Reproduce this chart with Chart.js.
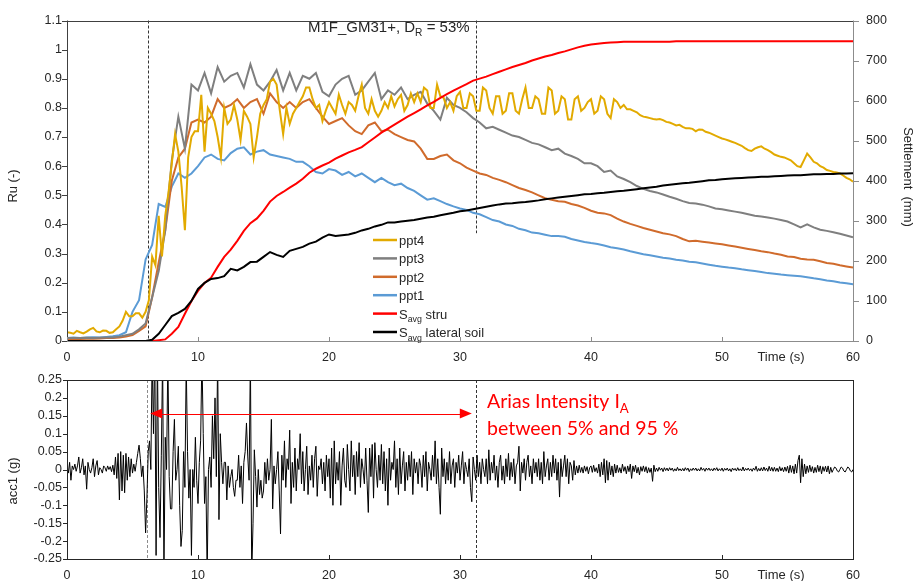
<!DOCTYPE html>
<html>
<head>
<meta charset="utf-8">
<title>M1F_GM31+ pore pressure and settlement</title>
<script src="https://cdn.jsdelivr.net/npm/chart.js@4.4.0/dist/chart.umd.min.js"></script>
<style>
  html, body { margin: 0; padding: 0; background: #fff; }
  #wrap { position: relative; width: 918px; height: 581px; overflow: hidden; }
  canvas { position: absolute; left: 0; }
  #topChart { top: 0; width: 918px; height: 365px; }
  #accChart { top: 365px; width: 918px; height: 216px; }
</style>
</head>
<body>
<div id="wrap">
  <canvas id="topChart" width="918" height="365"></canvas>
  <canvas id="accChart" width="918" height="216"></canvas>
</div>
<script>
// Time grids (s)
const RU_STEP = 0.5;
const PPT4_STEP = 0.25;
const ACC_STEP = 0.1;

// Excess pore pressure ratio Ru (-)
// ppt4 is sampled every 0.25 s (one row = 5 s), the others every 0.5 s
const ppt4 = [
  0.030, 0.028, 0.025, 0.035, 0.030, 0.026, 0.032, 0.040, 0.045, 0.033, 0.030, 0.036, 0.035, 0.028, 0.030, 0.040, 0.050, 0.070, 0.100, 0.085,
  0.085, 0.095, 0.095, 0.080, 0.100, 0.140, 0.290, 0.260, 0.430, 0.290, 0.430, 0.510, 0.610, 0.710, 0.650, 0.530, 0.380, 0.630, 0.700, 0.720,
  0.720, 0.845, 0.650, 0.800, 0.780, 0.755, 0.700, 0.630, 0.800, 0.745, 0.760, 0.810, 0.760, 0.690, 0.790, 0.770, 0.745, 0.630, 0.700, 0.780,
  0.810, 0.830, 0.890, 0.900, 0.880, 0.790, 0.710, 0.800, 0.745, 0.780, 0.800, 0.820, 0.840, 0.870, 0.870, 0.830, 0.800, 0.810, 0.755, 0.790,
  0.820, 0.800, 0.780, 0.845, 0.810, 0.780, 0.820, 0.810, 0.790, 0.840, 0.880, 0.800, 0.780, 0.830, 0.790, 0.770, 0.790, 0.820, 0.800, 0.840,
  0.805, 0.830, 0.845, 0.790, 0.810, 0.850, 0.820, 0.850, 0.820, 0.870, 0.860, 0.800, 0.800, 0.880, 0.840, 0.835, 0.800, 0.820, 0.790, 0.840,
  0.855, 0.800, 0.800, 0.850, 0.840, 0.790, 0.790, 0.870, 0.860, 0.800, 0.780, 0.840, 0.840, 0.780, 0.790, 0.850, 0.850, 0.790, 0.780, 0.830,
  0.870, 0.800, 0.800, 0.840, 0.830, 0.780, 0.780, 0.870, 0.860, 0.780, 0.790, 0.840, 0.830, 0.760, 0.760, 0.830, 0.840, 0.790, 0.800, 0.820,
  0.830, 0.780, 0.790, 0.840, 0.830, 0.780, 0.765, 0.830, 0.820, 0.800, 0.810, 0.795, 0.795, 0.790, 0.785, 0.775, 0.770, 0.768, 0.765, 0.762,
  0.760, 0.762, 0.758, 0.752, 0.750, 0.745, 0.740, 0.742, 0.735, 0.730, 0.730, 0.728, 0.720, 0.726, 0.725, 0.718, 0.715, 0.710, 0.705, 0.700,
  0.695, 0.692, 0.688, 0.684, 0.680, 0.675, 0.670, 0.662, 0.655, 0.652, 0.660, 0.665, 0.668, 0.660, 0.655, 0.648, 0.640, 0.636, 0.632, 0.630,
  0.625, 0.620, 0.610, 0.600, 0.597, 0.620, 0.643, 0.630, 0.615, 0.610, 0.600, 0.595, 0.587, 0.584, 0.580, 0.578, 0.575, 0.568, 0.560, 0.555,
  0.547
];
const ppt3 = [
  0.010, 0.010, 0.010, 0.011, 0.010, 0.011, 0.012, 0.012, 0.015, 0.020,
  0.025, 0.040, 0.060, 0.150, 0.240, 0.380, 0.620, 0.770, 0.660, 0.880,
  0.860, 0.920, 0.850, 0.940, 0.890, 0.910, 0.920, 0.870, 0.950, 0.880,
  0.860, 0.890, 0.930, 0.860, 0.920, 0.860, 0.910, 0.900, 0.920, 0.855,
  0.840, 0.880, 0.900, 0.910, 0.845, 0.860, 0.890, 0.920, 0.830, 0.860,
  0.845, 0.870, 0.830, 0.845, 0.855, 0.815, 0.790, 0.760, 0.835, 0.810,
  0.800, 0.785, 0.765, 0.750, 0.730, 0.735, 0.725, 0.715, 0.705, 0.700,
  0.690, 0.680, 0.675, 0.665, 0.655, 0.660, 0.643, 0.635, 0.625, 0.610,
  0.610, 0.600, 0.580, 0.585, 0.565, 0.556, 0.545, 0.532, 0.522, 0.515,
  0.510, 0.503, 0.495, 0.488, 0.480, 0.474, 0.472, 0.468, 0.462, 0.455,
  0.452, 0.448, 0.444, 0.440, 0.435, 0.430, 0.427, 0.424, 0.420, 0.415,
  0.410, 0.400, 0.390, 0.400, 0.390, 0.382, 0.378, 0.373, 0.368, 0.362,
  0.356
];
const ppt2 = [
  0.005, 0.006, 0.007, 0.008, 0.008, 0.009, 0.010, 0.010, 0.012, 0.015,
  0.020, 0.035, 0.050, 0.150, 0.270, 0.380, 0.550, 0.630, 0.660, 0.750,
  0.760, 0.750, 0.770, 0.830, 0.800, 0.810, 0.830, 0.800, 0.820, 0.830,
  0.780, 0.850, 0.820, 0.800, 0.820, 0.800, 0.820, 0.830, 0.800, 0.770,
  0.745, 0.755, 0.765, 0.740, 0.720, 0.710, 0.740, 0.750, 0.720, 0.725,
  0.710, 0.700, 0.690, 0.685, 0.660, 0.625, 0.625, 0.635, 0.640, 0.620,
  0.610, 0.595, 0.585, 0.575, 0.570, 0.560, 0.553, 0.545, 0.535, 0.525,
  0.518, 0.510, 0.500, 0.490, 0.485, 0.480, 0.478, 0.470, 0.465, 0.457,
  0.447, 0.440, 0.438, 0.432, 0.420, 0.410, 0.402, 0.395, 0.388, 0.382,
  0.376, 0.370, 0.366, 0.360, 0.350, 0.342, 0.344, 0.341, 0.338, 0.335,
  0.332, 0.328, 0.324, 0.320, 0.316, 0.312, 0.308, 0.305, 0.300, 0.296,
  0.290, 0.288, 0.282, 0.280, 0.279, 0.274, 0.268, 0.265, 0.260, 0.256,
  0.252
];
const ppt1 = [
  0.010, 0.012, 0.010, 0.012, 0.013, 0.012, 0.014, 0.016, 0.020, 0.030,
  0.100, 0.140, 0.280, 0.330, 0.470, 0.460, 0.530, 0.575, 0.560, 0.575,
  0.600, 0.630, 0.640, 0.625, 0.620, 0.645, 0.660, 0.665, 0.640, 0.650,
  0.655, 0.640, 0.635, 0.630, 0.625, 0.615, 0.615, 0.600, 0.580, 0.575,
  0.590, 0.585, 0.570, 0.580, 0.565, 0.575, 0.560, 0.545, 0.560, 0.545,
  0.535, 0.540, 0.525, 0.515, 0.500, 0.485, 0.490, 0.480, 0.470, 0.462,
  0.455, 0.450, 0.440, 0.435, 0.425, 0.415, 0.410, 0.400, 0.395, 0.385,
  0.380, 0.372, 0.370, 0.365, 0.360, 0.360, 0.358, 0.350, 0.345, 0.340,
  0.336, 0.333, 0.328, 0.322, 0.318, 0.314, 0.308, 0.303, 0.298, 0.294,
  0.290, 0.286, 0.283, 0.279, 0.276, 0.272, 0.270, 0.266, 0.262, 0.258,
  0.255, 0.252, 0.250, 0.246, 0.243, 0.240, 0.237, 0.233, 0.231, 0.228,
  0.226, 0.224, 0.222, 0.219, 0.215, 0.212, 0.208, 0.205, 0.201, 0.198,
  0.195
];

// Average settlements (mm), every 0.5 s
const sStru = [
  0, 0, 0, 0, 0, 0, 0, 0, 0, 0,
  0, 0, 0, 0, 2, 4, 18, 35, 68, 100,
  125, 145, 158, 185, 210, 228, 250, 275, 294, 306,
  325, 348, 362, 372, 383, 393, 405, 420, 430, 438,
  445, 455, 463, 471, 477, 484, 496, 508, 520, 530,
  540, 550, 560, 569, 578, 588, 597, 607, 616, 625,
  633, 641, 650, 655, 660, 666, 672, 678, 684, 689,
  694, 700, 705, 710, 714, 719, 723, 728, 733, 737,
  740, 742, 744, 745, 746, 747, 747, 747, 747, 747,
  747, 747, 747, 748, 748, 748, 748, 748, 748, 748,
  748, 748, 748, 748, 748, 748, 748, 748, 748, 748,
  748, 748, 748, 748, 748, 748, 748, 748, 748, 748,
  748
];
const sLateral = [
  0, 0, 0, 0, 0, 0, 0, 0, 0, 0,
  0, 0, 0, 3, 18, 40, 62, 70, 80, 100,
  130, 145, 155, 157, 162, 180, 176, 185, 197, 198,
  210, 222, 215, 210, 225, 230, 235, 243, 248, 258,
  266, 262, 264, 266, 270, 276, 280, 286, 290, 296,
  296, 298, 300, 302, 305, 308, 310, 314, 317, 320,
  324, 326, 329, 332, 335, 338, 341, 343, 344, 346,
  347, 349, 351, 354, 356, 358, 360, 362, 364, 366,
  367, 369, 370, 372, 374, 375, 377, 379, 381, 383,
  385, 388, 390, 392, 394, 395, 397, 399, 401, 402,
  404, 405, 406, 407, 408, 409, 410, 410, 411, 412,
  413, 414, 414, 415, 416, 416, 417, 417, 418, 418,
  419
];

// Base acceleration acc1 (g), one row = 1 s
const acc1 = [
  0.005, -0.010, 0.020, -0.030, 0.010, 0.000, 0.015, -0.005, 0.010, 0.035,
  -0.010, 0.005, 0.030, -0.015, 0.010, -0.055, 0.020, 0.000, -0.010, 0.005,
  0.030, -0.020, 0.010, 0.025, -0.015, 0.005, 0.000, -0.010, 0.010, 0.005,
  -0.005, 0.010, 0.000, 0.008, -0.006, 0.012, -0.015, 0.035, -0.025, 0.045,
  -0.085, 0.050, -0.060, 0.040, -0.065, 0.045, -0.030, 0.035, -0.020, 0.030,
  -0.010, 0.015, -0.005, 0.020, 0.045, 0.068, 0.030, -0.020, 0.010, -0.060,
  -0.177, -0.080, 0.050, 0.080, 0.000, 0.320, 0.100, 0.350, -0.240, 0.330,
  -0.050, -0.190, 0.040, 0.320, -0.300, 0.090, 0.000, 0.320, -0.020, -0.110,
  -0.110, 0.050, 0.140, -0.030, 0.000, 0.065, -0.100, -0.215, -0.170, 0.050,
  -0.050, 0.300, 0.050, -0.080, 0.000, -0.240, 0.000, -0.050, 0.090, -0.030,
  -0.095, 0.020, 0.080, 0.320, 0.100, -0.095, -0.020, -0.300, 0.000, 0.035,
  -0.050, 0.150, 0.030, 0.200, -0.020, 0.320, -0.140, 0.100, 0.020, -0.040,
  0.020, 0.020, -0.085, 0.010, -0.050, -0.020, 0.000, -0.050, -0.075, -0.030,
  -0.030, 0.040, -0.050, 0.010, -0.095, 0.020, 0.050, 0.130, 0.035, -0.030,
  0.320, -0.300, -0.150, 0.055, -0.020, -0.105, 0.000, -0.070, -0.030, -0.080,
  -0.060, 0.020, -0.040, 0.030, -0.030, 0.000, 0.140, -0.110, 0.010, -0.040,
  0.000, 0.050, -0.060, -0.180, 0.040, -0.030, 0.080, -0.050, 0.030, 0.000,
  0.110, -0.095, 0.020, -0.050, 0.060, -0.060, 0.030, 0.000, 0.100, -0.040,
  0.050, -0.060, 0.000, 0.065, -0.070, 0.010, -0.030, 0.040, -0.050, 0.030,
  0.065, -0.075, 0.010, 0.000, 0.030, -0.040, 0.020, -0.060, 0.040, -0.020,
  0.030, -0.080, 0.060, -0.100, 0.080, -0.040, 0.020, -0.030, 0.050, -0.100,
  0.010, 0.060, -0.030, -0.050, 0.070, 0.000, -0.060, 0.080, -0.020, 0.040,
  -0.070, 0.050, -0.020, 0.075, -0.050, 0.030, 0.000, -0.040, 0.060, -0.030,
  -0.120, 0.060, -0.020, 0.070, -0.080, 0.075, 0.000, -0.050, 0.040, -0.030,
  0.070, -0.040, 0.050, -0.060, 0.030, -0.100, 0.060, -0.030, 0.020, 0.000,
  0.080, -0.050, 0.030, -0.070, 0.060, -0.040, 0.010, 0.050, -0.060, 0.020,
  -0.030, 0.040, -0.020, 0.050, -0.070, 0.030, -0.010, 0.020, -0.040, 0.030,
  0.010, -0.050, 0.040, -0.020, 0.050, -0.060, 0.020, 0.000, -0.030, 0.040,
  -0.020, 0.080, -0.040, 0.030, -0.050, -0.125, 0.060, -0.020, 0.030, -0.040,
  0.020, -0.030, 0.050, -0.040, 0.010, 0.030, -0.050, 0.020, -0.010, 0.040,
  -0.030, 0.010, 0.050, -0.040, 0.020, 0.000, -0.020, 0.030, -0.050, -0.090,
  0.035, 0.000, -0.030, 0.040, -0.020, 0.020, -0.040, 0.030, 0.000, -0.020,
  0.030, -0.040, 0.055, -0.030, 0.020, -0.010, 0.040, -0.030, 0.010, -0.050,
  0.020, 0.040, -0.030, 0.010, -0.040, 0.030, -0.020, 0.045, -0.030, 0.020,
  -0.020, 0.030, -0.040, 0.010, 0.020, 0.065, -0.060, 0.020, -0.010, 0.030,
  -0.030, 0.020, 0.040, -0.020, 0.010, -0.040, 0.030, -0.010, 0.020, -0.020,
  0.030, -0.030, 0.020, -0.040, 0.050, -0.020, 0.010, 0.030, -0.030, 0.020,
  -0.020, 0.040, -0.010, 0.030, -0.030, 0.020, -0.077, 0.030, -0.020, 0.010,
  0.040, -0.020, 0.030, -0.040, 0.020, 0.010, -0.030, 0.025, -0.015, 0.010,
  -0.010, 0.012, -0.008, 0.006, -0.010, 0.010, -0.005, 0.008, -0.012, 0.005,
  0.010, -0.008, 0.012, -0.006, 0.005, -0.010, 0.015, -0.020, 0.020, -0.015,
  0.030, -0.037, 0.025, -0.030, 0.020, -0.015, 0.010, -0.020, 0.015, -0.010,
  0.012, -0.008, 0.005, -0.010, 0.015, -0.005, 0.008, -0.012, 0.010, -0.006,
  0.015, -0.025, 0.010, -0.006, 0.012, -0.010, 0.006, -0.015, 0.008, -0.005,
  0.010, -0.006, 0.008, -0.010, 0.005, -0.008, 0.004, -0.033, 0.012, -0.006,
  0.004, -0.005, 0.006, -0.002, 0.004, -0.006, 0.005, -0.003, 0.004, -0.004,
  0.005, -0.002, 0.004, -0.005, 0.002, -0.004, 0.006, -0.003, 0.002, -0.004,
  0.003, -0.004, 0.005, -0.002, 0.004, -0.006, 0.002, -0.003, 0.004, -0.002,
  0.004, -0.004, 0.002, -0.004, 0.006, -0.002, 0.003, -0.005, 0.004, -0.002,
  0.004, -0.003, 0.002, -0.004, 0.004, -0.002, 0.005, -0.004, 0.002, -0.003,
  0.004, -0.005, 0.003, -0.002, 0.004, -0.004, 0.002, -0.006, 0.004, -0.002,
  0.003, -0.004, 0.005, -0.003, 0.002, -0.004, 0.007, -0.004, 0.003, -0.002,
  0.004, -0.003, 0.002, -0.005, 0.004, -0.002, 0.009, -0.005, 0.003, -0.004,
  0.005, -0.004, 0.007, -0.003, 0.004, -0.005, 0.009, -0.004, 0.006, -0.005,
  0.006, -0.005, 0.004, -0.006, 0.008, -0.004, 0.005, -0.006, 0.007, -0.005,
  0.009, -0.010, 0.012, -0.008, 0.010, -0.012, 0.015, -0.010, 0.025, 0.040,
  -0.037, 0.030, -0.020, 0.015, -0.012, 0.010, -0.008, 0.012, -0.006, 0.008,
  -0.010, 0.006, -0.008, 0.012, -0.006, 0.010, -0.012, 0.008, -0.005, 0.009,
  -0.007, 0.010, -0.012, 0.006, -0.008, 0.000, 0.007, 0.004, -0.004, -0.007,
  0.000, 0.007, 0.004, -0.004, -0.007, 0.000, 0.007, 0.004, -0.004, -0.007,
  0.000
];

// Axis ticks
const TIME_TICKS = [0, 10, 20, 30, 40, 50, 60];
const RU_MAX = 1.1;
const SETTLE_MAX = 800;
const ACC_LIMIT = 0.25;

// Arias intensity window (5% - 95%), s
const IA_START = 6.2;
const IA_END = 31.2;

const COLORS = {
  ppt4: "#E2AA00",
  ppt3: "#7F7F7F",
  ppt2: "#D06B2C",
  ppt1: "#5B9BD5",
  stru: "#FF0000",
  lateral: "#000000",
};

const FONT = '"Liberation Sans", Arial, sans-serif';
Chart.defaults.font.family = FONT;
Chart.defaults.color = "#262626";

const toPoints = (arr, step) => arr.map((v, i) => ({ x: i * step, y: v }));

function lineSet(label, data, step, color, axis) {
  return {
    label,
    data: toPoints(data, step),
    borderColor: color,
    borderWidth: 2,
    pointRadius: 0,
    tension: 0,
    yAxisID: axis,
  };
}

// small helpers for text with subscripts
function drawSubText(ctx, x, y, parts, size, family) {
  let cx = x;
  parts.forEach((p) => {
    const s = p.sub ? size * 0.68 : size;
    ctx.font = `${s}px ${family}`;
    ctx.fillText(p.t, cx, p.sub ? y + size * 0.28 : y);
    cx += ctx.measureText(p.t).width;
  });
}

function vline(ctx, x, y0, y1) {
  ctx.beginPath();
  ctx.moveTo(Math.round(x) + 0.5, y0);
  ctx.lineTo(Math.round(x) + 0.5, y1);
  ctx.stroke();
}

function hline(ctx, x0, x1, y) {
  ctx.beginPath();
  ctx.moveTo(x0, Math.round(y) + 0.5);
  ctx.lineTo(x1, Math.round(y) + 0.5);
  ctx.stroke();
}

const topDecor = {
  id: "topDecor",
  beforeDatasetsDraw(chart) {
    const { ctx, chartArea: a, scales } = chart;
    ctx.save();
    ctx.strokeStyle = "#333";
    ctx.lineWidth = 1;
    ctx.setLineDash([3, 2]);
    vline(ctx, scales.x.getPixelForValue(IA_START), a.top, a.bottom);
    vline(ctx, scales.x.getPixelForValue(IA_END), a.top, scales.y.getPixelForValue(0.37));
    ctx.restore();
  },
  afterDraw(chart) {
    const { ctx, chartArea: a, scales } = chart;
    ctx.save();
    ctx.lineWidth = 1;
    // frame
    ctx.strokeStyle = "#404040";
    hline(ctx, a.left, a.right, a.top);
    vline(ctx, a.left, a.top, a.bottom);
    ctx.strokeStyle = "#8C8C8C";
    hline(ctx, a.left, a.right, a.bottom);
    vline(ctx, a.right, a.top, a.bottom);
    // ticks
    ctx.strokeStyle = "#404040";
    scales.y.ticks.forEach((t) => hline(ctx, a.left - 5, a.left, scales.y.getPixelForValue(t.value)));
    ctx.strokeStyle = "#8C8C8C";
    scales.y2.ticks.forEach((t) => hline(ctx, a.right, a.right + 6, scales.y2.getPixelForValue(t.value)));
    TIME_TICKS.forEach((t) => vline(ctx, scales.x.getPixelForValue(t), a.bottom - 4, a.bottom));

    // axis titles
    ctx.fillStyle = "#262626";
    ctx.textAlign = "center";
    ctx.textBaseline = "middle";
    ctx.font = `13px ${FONT}`;
    ctx.fillText("Time (s)", 781, 357);
    ctx.save();
    ctx.translate(13, 186);
    ctx.rotate(-Math.PI / 2);
    ctx.fillText("Ru (-)", 0, 0);
    ctx.restore();
    ctx.save();
    ctx.translate(908, 177);
    ctx.rotate(Math.PI / 2);
    ctx.fillText("Settlement  (mm)", 0, 0);
    ctx.restore();

    // title
    ctx.textAlign = "left";
    ctx.textBaseline = "alphabetic";
    drawSubText(ctx, 308, 32, [{ t: "M1F_GM31+, D" }, { t: "R", sub: true }, { t: " = 53%" }], 15, FONT);

    // legend
    const entries = [
      { parts: [{ t: "ppt4" }], color: COLORS.ppt4 },
      { parts: [{ t: "ppt3" }], color: COLORS.ppt3 },
      { parts: [{ t: "ppt2" }], color: COLORS.ppt2 },
      { parts: [{ t: "ppt1" }], color: COLORS.ppt1 },
      { parts: [{ t: "S" }, { t: "avg", sub: true }, { t: " stru" }], color: COLORS.stru },
      { parts: [{ t: "S" }, { t: "avg", sub: true }, { t: " lateral soil" }], color: COLORS.lateral },
    ];
    ctx.lineWidth = 2.5;
    entries.forEach((e, i) => {
      const y = 240 + i * 18.4;
      ctx.strokeStyle = e.color;
      ctx.beginPath();
      ctx.moveTo(373, y);
      ctx.lineTo(397, y);
      ctx.stroke();
      ctx.fillStyle = "#262626";
      drawSubText(ctx, 399, y + 5, e.parts, 13, FONT);
    });
    ctx.restore();
  },
};

const accDecor = {
  id: "accDecor",
  beforeDatasetsDraw(chart) {
    const { ctx, chartArea: a, scales } = chart;
    ctx.save();
    ctx.lineWidth = 1;
    ctx.setLineDash([3, 2]);
    ctx.strokeStyle = "#8C8C8C";
    vline(ctx, scales.x.getPixelForValue(IA_START - 0.1), a.top, a.bottom);
    ctx.strokeStyle = "#333";
    vline(ctx, scales.x.getPixelForValue(IA_END), a.top, a.bottom);
    ctx.restore();
  },
  afterDraw(chart) {
    const { ctx, chartArea: a, scales } = chart;
    ctx.save();
    ctx.lineWidth = 1;
    ctx.strokeStyle = "#262626";
    ctx.strokeRect(Math.round(a.left) + 0.5, Math.round(a.top) + 0.5, Math.round(a.right - a.left), Math.round(a.bottom - a.top));
    scales.y.ticks.forEach((t) => hline(ctx, a.left - 4, a.left, scales.y.getPixelForValue(t.value)));
    TIME_TICKS.forEach((t) => vline(ctx, scales.x.getPixelForValue(t), a.bottom - 4, a.bottom));

    // Arias intensity arrow
    const ay = Math.round(scales.y.getPixelForValue(0.157)) + 0.5;
    const x0 = scales.x.getPixelForValue(IA_START + 0.15);
    const x1 = scales.x.getPixelForValue(IA_END - 0.3);
    ctx.strokeStyle = "#FF0000";
    ctx.fillStyle = "#FF0000";
    hline(ctx, x0 + 10, x1 - 10, ay);
    ctx.beginPath();
    ctx.moveTo(x0, ay);
    ctx.lineTo(x0 + 12, ay - 5);
    ctx.lineTo(x0 + 12, ay + 5);
    ctx.closePath();
    ctx.fill();
    ctx.beginPath();
    ctx.moveTo(x1, ay);
    ctx.lineTo(x1 - 12, ay - 5);
    ctx.lineTo(x1 - 12, ay + 5);
    ctx.closePath();
    ctx.fill();

    ctx.textAlign = "left";
    ctx.textBaseline = "alphabetic";
    const arias = '"Lato", "Open Sans", sans-serif';
    drawSubText(ctx, 487, 408 - 365, [{ t: "Arias Intensity I" }, { t: "A", sub: true }], 19.5, arias);
    ctx.font = `19.5px ${arias}`;
    ctx.fillText("between 5% and 95 %", 487, 435 - 365);

    // axis titles
    ctx.fillStyle = "#262626";
    ctx.textAlign = "center";
    ctx.textBaseline = "middle";
    ctx.font = `13px ${FONT}`;
    ctx.fillText("Time (s)", 781, 575 - 365);
    ctx.translate(13, 481 - 365);
    ctx.rotate(-Math.PI / 2);
    ctx.fillText("acc1 (g)", 0, 0);
    ctx.restore();
  },
};

const tickFont = { size: 12.5 };
const fmt = (v) => String(+v.toFixed(2));

const timeAxis = (h) => ({
  type: "linear",
  min: 0,
  max: 60,
  ticks: { stepSize: 10, padding: 9, font: tickFont, maxRotation: 0 },
  grid: { display: false, drawTicks: false },
  border: { display: false },
  afterFit: (s) => { s.height = h; },
});

new Chart(document.getElementById("topChart"), {
  type: "line",
  data: {
    datasets: [
      lineSet("Savg lateral soil", sLateral, RU_STEP, COLORS.lateral, "y2"),
      lineSet("Savg stru", sStru, RU_STEP, COLORS.stru, "y2"),
      lineSet("ppt4", ppt4, PPT4_STEP, COLORS.ppt4, "y"),
      lineSet("ppt3", ppt3, RU_STEP, COLORS.ppt3, "y"),
      lineSet("ppt2", ppt2, RU_STEP, COLORS.ppt2, "y"),
      lineSet("ppt1", ppt1, RU_STEP, COLORS.ppt1, "y"),
    ],
  },
  options: {
    responsive: false,
    animation: false,
    devicePixelRatio: 1,
    layout: { padding: { top: 14, left: 0, right: 0, bottom: 0 } },
    plugins: { legend: { display: false }, tooltip: { enabled: false }, title: { display: false } },
    scales: {
      x: timeAxis(24),
      y: {
        position: "left",
        min: 0,
        max: RU_MAX,
        ticks: { stepSize: 0.1, padding: 5, font: tickFont, callback: fmt, autoSkip: false },
        grid: { display: false, drawTicks: false },
        border: { display: false },
        afterFit: (s) => { s.width = 67; },
      },
      y2: {
        position: "right",
        min: 0,
        max: SETTLE_MAX,
        ticks: { stepSize: 100, padding: 13, font: tickFont, autoSkip: false },
        grid: { display: false, drawTicks: false },
        border: { display: false },
        afterFit: (s) => { s.width = 65; },
      },
    },
  },
  plugins: [topDecor],
});

new Chart(document.getElementById("accChart"), {
  type: "line",
  data: {
    datasets: [{
      label: "acc1",
      data: toPoints(acc1, ACC_STEP),
      borderColor: "#000",
      borderWidth: 1,
      pointRadius: 0,
      tension: 0,
    }],
  },
  options: {
    responsive: false,
    animation: false,
    devicePixelRatio: 1,
    layout: { padding: { top: 15, left: 0, right: 65, bottom: 0 } },
    plugins: { legend: { display: false }, tooltip: { enabled: false } },
    scales: {
      x: timeAxis(22),
      y: {
        min: -ACC_LIMIT,
        max: ACC_LIMIT,
        ticks: { stepSize: 0.05, padding: 5, font: tickFont, callback: fmt, autoSkip: false },
        grid: { display: false, drawTicks: false },
        border: { display: false },
        afterFit: (s) => { s.width = 67; },
      },
    },
  },
  plugins: [accDecor],
});
</script>
</body>
</html>
